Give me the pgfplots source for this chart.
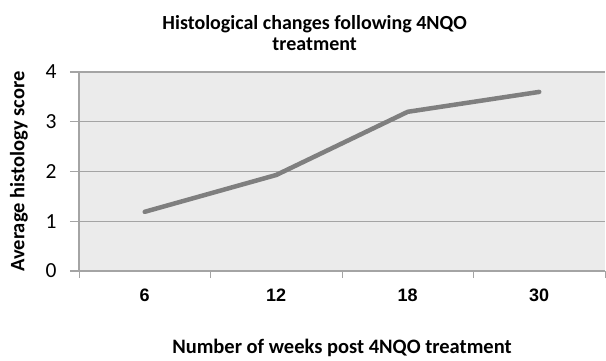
\documentclass[border=0pt]{standalone}
\usepackage{fontspec}
\setmainfont{Carlito}
\newfontfamily\arialf{Liberation Sans}
\usepackage{pgfplots}
\pgfplotsset{compat=1.18}
\definecolor{plotbg}{HTML}{EBEBEB}
\definecolor{gridc}{HTML}{A4A4A4}
\definecolor{linec}{HTML}{7F7F7F}
\begin{document}
\begin{tikzpicture}[x=1pt,y=1pt]
\useasboundingbox (0,0) rectangle (606,360);
\begin{axis}[
  at={(79pt,89pt)}, anchor=south west,
  width=526pt, height=199pt, scale only axis,
  xmin=0, xmax=4, ymin=0, ymax=4,
  axis background/.style={fill=plotbg},
  axis x line=bottom, axis y line=left,
  axis line style={-, draw=gridc, line width=1.2pt},
  xtick={0.5,1.5,2.5,3.5}, xticklabels={6,12,18,30},
  major x tick style={draw=none},
  minor xtick={0,1,2,3,4},
  minor x tick style={draw=gridc, line width=0.8pt},
  ytick={0,1,2,3,4},
  ymajorgrids, grid style={draw=gridc, line width=1.2pt},
  tick align=outside,
  minor tick length=7pt, major tick length=9pt,
  y tick style={draw=gridc, line width=1.2pt},
  /pgf/number format/assume math mode=true,
  yticklabel style={font=\fontsize{21.5}{23}\selectfont, anchor=east, xshift=-10pt},
  xticklabel style={font=\arialf\bfseries\fontsize{18}{20}\selectfont, anchor=center, yshift=-15pt},
  ylabel={Average histology score},
  every axis y label/.style={at={(axis description cs:-0.114,0.5)}, rotate=90, anchor=center, font=\bfseries\fontsize{20.5}{22}\selectfont},
  xlabel={Number of weeks post 4NQO treatment},
  every axis x label/.style={at={(axis description cs:0.5,-0.417)}, anchor=base, font=\bfseries\fontsize{20.5}{22}\selectfont},
  title={Histological changes following 4NQO\\treatment},
  title style={at={(axis description cs:0.448,1.166)}, anchor=center, align=center, font=\bfseries\fontsize{20}{21.5}\selectfont},
]
\addplot[linec, line width=4.5pt, line join=round, line cap=round] coordinates {(0.5,1.19) (1.5,1.93) (2.5,3.2) (3.5,3.6)};
\end{axis}
\end{tikzpicture}
\end{document}
